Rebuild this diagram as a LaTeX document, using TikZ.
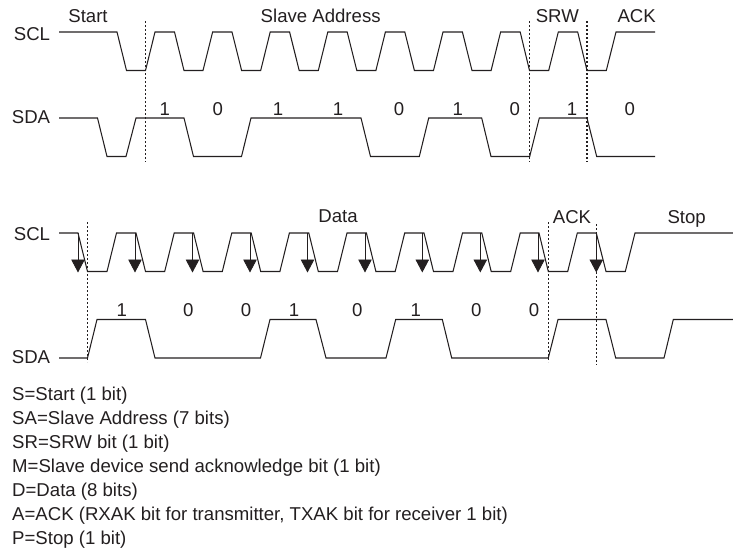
\documentclass[tikz,border=0pt]{standalone}
\usepackage{fontspec}
\setmainfont{Liberation Sans}
\usetikzlibrary{arrows.meta}
\definecolor{ink}{HTML}{231F20}
\tikzset{
  wave/.style={draw=ink,line width=1.05pt,line join=miter},
  guide/.style={draw=ink,line width=1.05pt,dash pattern=on 2.4pt off 1.6pt},
  edgearrow/.style={draw=ink,line width=0.9pt,-{Triangle[length=13pt,width=13.5pt,fill=ink]}},
  lbl/.style={inner sep=0pt,text=ink,font=\fontsize{18.6}{22}\selectfont,anchor=base},
  lgd/.style={lbl,anchor=base west}
}
\begin{document}
\begin{tikzpicture}[x=1pt,y=-1pt]
\useasboundingbox (0,0) rectangle (733,550);
% top SCL
\draw[wave] (59,32) -- (117,32) -- (126.5,70.5) -- (145.5,70.5) -- (155,32) -- (174.5,32) -- (184,70.5) -- (203,70.5) -- (212.6,32) -- (232,32) -- (241.6,70.5) -- (260.7,70.5) -- (270.2,32) -- (289.6,32) -- (299.2,70.5) -- (318.3,70.5) -- (327.8,32) -- (347.2,32) -- (356.8,70.5) -- (375.9,70.5) -- (385.4,32) -- (404.8,32) -- (414.4,70.5) -- (433.5,70.5) -- (443,32) -- (462.4,32) -- (472,70.5) -- (491.1,70.5) -- (500.6,32) -- (520.2,32) -- (529.5,70.5) -- (548.7,70.5) -- (558.3,32) -- (577.7,32) -- (587,70.5) -- (606.3,70.5) -- (616,32) -- (655,32);
% top SDA
\draw[wave] (59,118) -- (97.5,118) -- (107,156.5) -- (126,156.5) -- (136,118) -- (184,118) -- (193.5,156.5) -- (241.5,156.5) -- (251,118) -- (361,118) -- (370.5,156.5) -- (419.3,156.5) -- (428.7,118) -- (481.7,118) -- (491,156.5) -- (529.7,156.5) -- (539.3,118) -- (587,118) -- (596.7,156.5) -- (655,156.5);
% top guides
\draw[guide] (145.5,21) -- (145.5,162);
\draw[guide] (529.5,21) -- (529.5,162);
\draw[guide] (587,21) -- (587,162);
% bottom SCL
\draw[wave] (59,233) -- (78,233) -- (87.5,271.5) -- (107,271.5) -- (116.5,233) -- (136,233) -- (145.5,271.5) -- (164.7,271.5) -- (174.2,233) -- (193.6,233) -- (203.1,271.5) -- (222.3,271.5) -- (231.8,233) -- (251.2,233) -- (260.7,271.5) -- (279.9,271.5) -- (289.4,233) -- (308.8,233) -- (318.3,271.5) -- (337.5,271.5) -- (347,233) -- (366.4,233) -- (375.9,271.5) -- (395.2,271.5) -- (404.7,233) -- (424,233) -- (433.5,271.5) -- (453,271.5) -- (462.5,233) -- (481.8,233) -- (491.2,271.5) -- (510.7,271.5) -- (520.2,233) -- (539,233) -- (548.3,271.5) -- (567.7,271.5) -- (577.3,233) -- (596.3,233) -- (606,271.5) -- (625.3,271.5) -- (635,233) -- (733,233);
% bottom SDA
\draw[wave] (59,358) -- (87.5,358) -- (97,319.5) -- (145.5,319.5) -- (155,358) -- (260.5,358) -- (270,319.5) -- (316,319.5) -- (326,358) -- (386,358) -- (395.7,319.5) -- (442.3,319.5) -- (451.7,358) -- (548.3,358) -- (558,319.5) -- (606,319.5) -- (615.7,358) -- (664,358) -- (673.3,319.5) -- (733,319.5);
% bottom guides
\draw[guide] (87.5,222) -- (87.5,362);
\draw[guide] (548.5,222) -- (548.5,362);
\draw[guide] (596.5,224) -- (596.5,365);
% clock-edge arrows
\foreach \ax in {78,135,192.5,250,307.5,365,422.3,480.3,538,596.3}
  \draw[edgearrow] (\ax,233) -- (\ax,272.5);
% labels
\foreach \nm/\tx/\cx/\by in {a/SCL/32/40,b/SDA/31/123.5,c/Start/88/22,d/Slave Address/320.7/22,e/SRW/557.3/22,f/ACK/636.7/22,
  g/SCL/32/240,h/SDA/31/363.3,i/Data/338/222.7,j/ACK/572/223,k/Stop/686.7/223}
  \node[lbl] (\nm) at (\cx,\by) {\tx};
\foreach \nm/\tx/\cx in {t1/1/164.7,t2/0/217.7,t3/1/278,t4/1/338,t5/0/399,t6/1/457.7,t7/0/514.7,t8/1/572,t9/0/629.7}
  \node[lbl] (\nm) at (\cx,115) {\tx};
\foreach \nm/\tx/\cx in {u1/1/121.7,u2/0/188.3,u3/0/246,u4/1/294,u5/0/357.3,u6/1/415.7,u7/0/476.3,u8/0/534}
  \node[lbl] (\nm) at (\cx,316.7) {\tx};
% legend
\node[lgd] (l1) at (12,400) {S=Start (1 bit)};
\node[lgd] (l2) at (12,424) {SA=Slave Address (7 bits)};
\node[lgd] (l3) at (12,448) {SR=SRW bit (1 bit)};
\node[lgd] (l4) at (12,472) {M=Slave device send acknowledge bit (1 bit)};
\node[lgd] (l5) at (12,496) {D=Data (8 bits)};
\node[lgd] (l6) at (12,520) {A=ACK (RXAK bit for transmitter, TXAK bit for receiver 1 bit)};
\node[lgd] (l7) at (12,544) {P=Stop (1 bit)};
\end{tikzpicture}
\end{document}
